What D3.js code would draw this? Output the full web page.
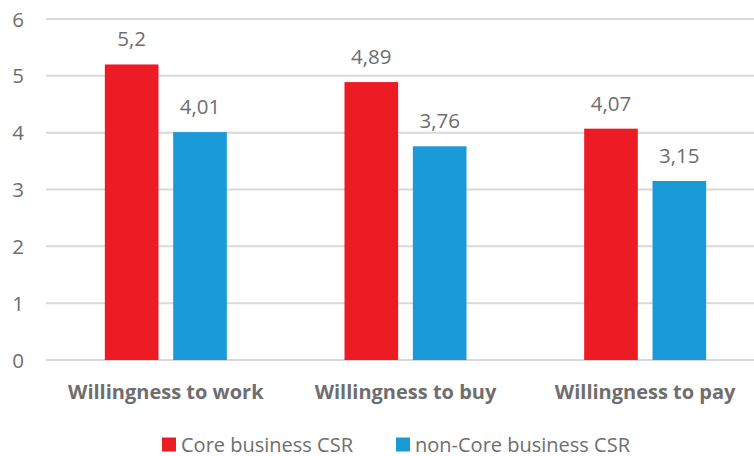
<!DOCTYPE html>
<html>
<head>
<meta charset="utf-8">
<script src="https://cdn.jsdelivr.net/npm/d3@7"></script>
<style>
  html, body { margin: 0; padding: 0; background: #fff; }
  svg { display: block; }
  text { font-family: "Open Sans", "Noto Sans", sans-serif; }
</style>
</head>
<body>
<svg id="chart" width="754" height="456"></svg>
<script>
// Chart data
const categories = ["Willingness to work", "Willingness to buy", "Willingness to pay"];
const seriesNames = ["Core business CSR", "non-Core business CSR"];
const coreValues = [5.2, 4.89, 4.07];
const nonCoreValues = [4.01, 3.76, 3.15];
const yTicks = [0, 1, 2, 3, 4, 5, 6];

const seriesValues = [coreValues, nonCoreValues];
const colors = ["#ED1C24", "#1A9AD7"];
const textColor = "#6e6e6e";

const W = 754, H = 456;
const svg = d3.select("#chart");

const y = d3.scaleLinear().domain([0, 6]).range([360, 19]);
const x0 = d3.scaleBand().domain(categories).range([46, 765]).padding(0);
const groupWidth = 122;
const x1 = d3.scaleBand().domain(seriesNames).range([0, groupWidth]).paddingInner(0.215);

// Horizontal gridlines
svg.append("g").selectAll("line").data(yTicks).join("line")
  .attr("x1", 46).attr("x2", W)
  .attr("y1", d => y(d)).attr("y2", d => y(d))
  .attr("stroke", "#d9d9d9").attr("stroke-width", 2);

// Y axis labels
svg.append("g").selectAll("text").data(yTicks).join("text")
  .attr("x", 24).attr("y", d => y(d) + 7.5)
  .attr("text-anchor", "end")
  .attr("font-size", 20.5)
  .attr("fill", textColor)
  .text(d => d);

// Bars
const groups = svg.append("g").selectAll("g").data(categories).join("g")
  .attr("transform", c => `translate(${x0(c) + (x0.bandwidth() - groupWidth) / 2},0)`);

const fmt = v => String(v).replace(".", ",");

groups.each(function(c, i) {
  const g = d3.select(this);
  const rows = seriesNames.map((s, k) => ({ s, k, v: seriesValues[k][i] }));
  g.selectAll("rect").data(rows).join("rect")
    .attr("x", d => x1(d.s))
    .attr("y", d => y(d.v))
    .attr("width", x1.bandwidth())
    .attr("height", d => y(0) - y(d.v))
    .attr("fill", d => colors[d.k]);
  g.selectAll("text").data(rows).join("text")
    .attr("x", d => x1(d.s) + x1.bandwidth() / 2)
    .attr("y", d => y(d.v) - 18)
    .attr("text-anchor", "middle")
    .attr("font-size", 20.5)
    .attr("fill", textColor)
    .text(d => fmt(d.v));
});

// Category labels
svg.append("g").selectAll("text").data(categories).join("text")
  .attr("x", c => x0(c) + x0.bandwidth() / 2)
  .attr("y", 399)
  .attr("text-anchor", "middle")
  .attr("font-size", 20)
  .attr("font-weight", "bold")
  .attr("fill", textColor)
  .text(c => c);

// Legend
const legendX = [162, 396];
const legend = svg.append("g").selectAll("g").data(seriesNames).join("g")
  .attr("transform", (d, i) => `translate(${legendX[i]},437.5)`);
legend.append("rect").attr("width", 14).attr("height", 14)
  .attr("fill", (d, i) => colors[i]);
legend.append("text").attr("x", 19).attr("y", 14)
  .attr("font-size", 20)
  .attr("fill", textColor)
  .text(d => d);
</script>
</body>
</html>
